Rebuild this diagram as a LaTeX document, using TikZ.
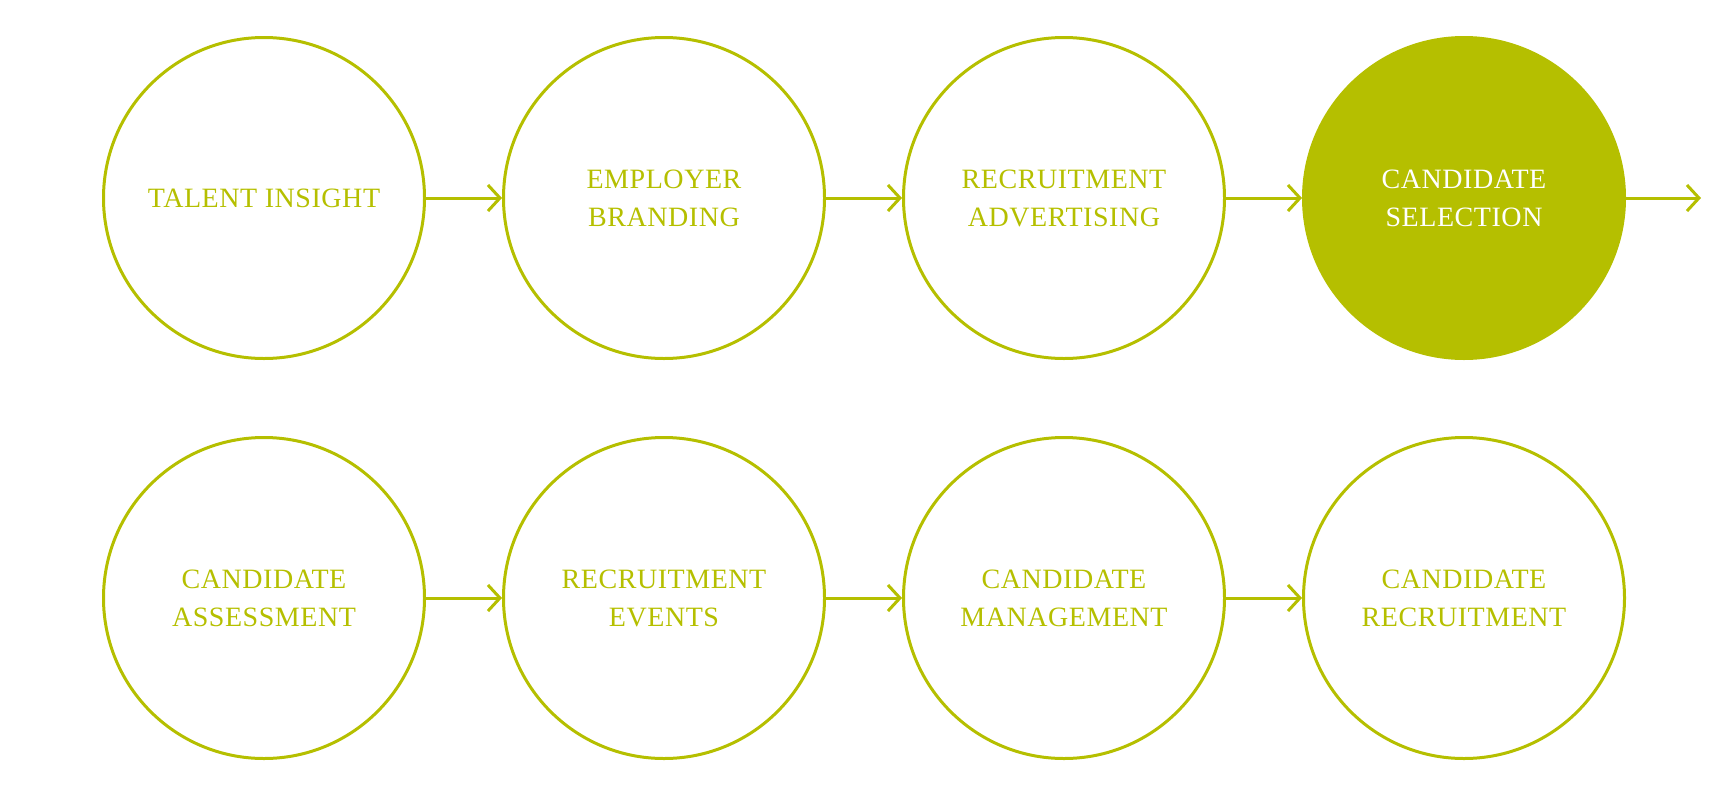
\documentclass[tikz,border=0pt]{standalone}
\usepackage{fontspec}
\setmainfont{Liberation Serif}
\newfontfamily\labelfont[LetterSpace=2]{Liberation Serif}
\usetikzlibrary{arrows.meta}
\definecolor{olivegreen}{HTML}{B5BF00}
\tikzset{
  stage/.style={circle, draw=olivegreen, line width=3pt, minimum size=321pt, inner sep=0pt,
    align=center, text=olivegreen, font=\labelfont\fontsize{28}{38}\selectfont},
  activestage/.style={stage, fill=olivegreen, text=white},
  link/.style={draw=olivegreen, line width=3pt, -{Straight Barb[length=12pt,width=26pt]}}
}
\begin{document}
\begin{tikzpicture}[x=1pt,y=-1pt]
\useasboundingbox (0,0) rectangle (1732,793);
\node[stage] (a) at (264,198) {TALENT INSIGHT};
\node[stage] (b) at (664,198) {EMPLOYER\\BRANDING};
\node[stage] (c) at (1064,198) {RECRUITMENT\\ADVERTISING};
\node[activestage] (d) at (1464,198) {CANDIDATE\\SELECTION};
\coordinate (dend) at (1701,198);
\node[stage] (e) at (264,598) {CANDIDATE\\ASSESSMENT};
\node[stage] (f) at (664,598) {RECRUITMENT\\EVENTS};
\node[stage] (g) at (1064,598) {CANDIDATE\\MANAGEMENT};
\node[stage] (h) at (1464,598) {CANDIDATE\\RECRUITMENT};
\draw[link] (a) -- (b);
\draw[link] (b) -- (c);
\draw[link] (c) -- (d);
\draw[link] (d) -- (dend);
\draw[link] (e) -- (f);
\draw[link] (f) -- (g);
\draw[link] (g) -- (h);
\end{tikzpicture}
\end{document}
